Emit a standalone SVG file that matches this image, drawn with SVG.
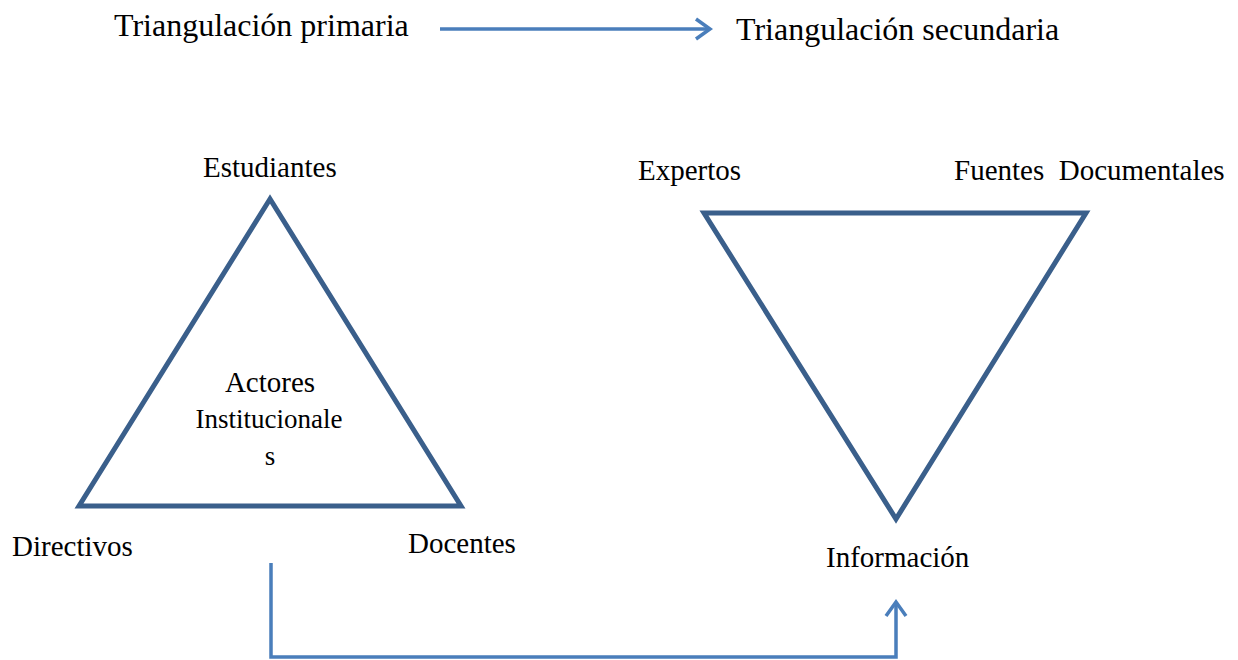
<svg xmlns="http://www.w3.org/2000/svg" width="1238" height="660" viewBox="0 0 1238 660">
<style>
text{font-family:"Liberation Serif","Times New Roman",serif;fill:#000}
.t{font-size:32px}
.l{font-size:29px}
.s{font-size:27px}
.tri{fill:none;stroke:#3a5f8b;stroke-width:5;stroke-linejoin:miter}
.c{fill:none;stroke:#4a7ebb;stroke-width:3.5}
</style>
<defs>
<marker id="ah2" markerWidth="24" markerHeight="24" refX="20" refY="12" orient="auto" markerUnits="userSpaceOnUse" viewBox="0 0 24 24">
<path d="M6,2 L20,12 L6,22" fill="none" stroke="#4a7ebb" stroke-width="3.5"/>
</marker>
</defs>
<g id="primaria"><text class="t" x="114" y="36">Triangulación primaria</text></g>
<g id="secundaria"><text class="t" x="736" y="40">Triangulación secundaria</text></g>
<g id="triangulo-primario">
<polygon class="tri" points="270,199 79,506 461,506"/>
<text class="l" x="270" y="392" text-anchor="middle">Actores</text>
<text class="s" x="269" y="428" text-anchor="middle">Institucionale</text>
<text class="s" x="270" y="465" text-anchor="middle">s</text>
</g>
<g id="estudiantes"><text class="l" x="203" y="177">Estudiantes</text></g>
<g id="directivos"><text class="l" x="12" y="556">Directivos</text></g>
<g id="docentes"><text class="l" x="408" y="553">Docentes</text></g>
<g id="triangulo-secundario">
<polygon class="tri" points="704,213 1086,213 896,519"/>
</g>
<g id="expertos"><text class="l" x="638" y="180">Expertos</text></g>
<g id="fuentes"><text class="l" x="954" y="180" xml:space="preserve">Fuentes  Documentales</text></g>
<g id="informacion"><text class="l" x="826" y="567">Información</text></g>
<g id="connectors">
<line class="c" x1="440" y1="29" x2="710" y2="29" marker-end="url(#ah2)"/>
<polyline class="c" points="271,563 271,657 896,657 896,602" marker-end="url(#ah2)"/>
</g>
</svg>
